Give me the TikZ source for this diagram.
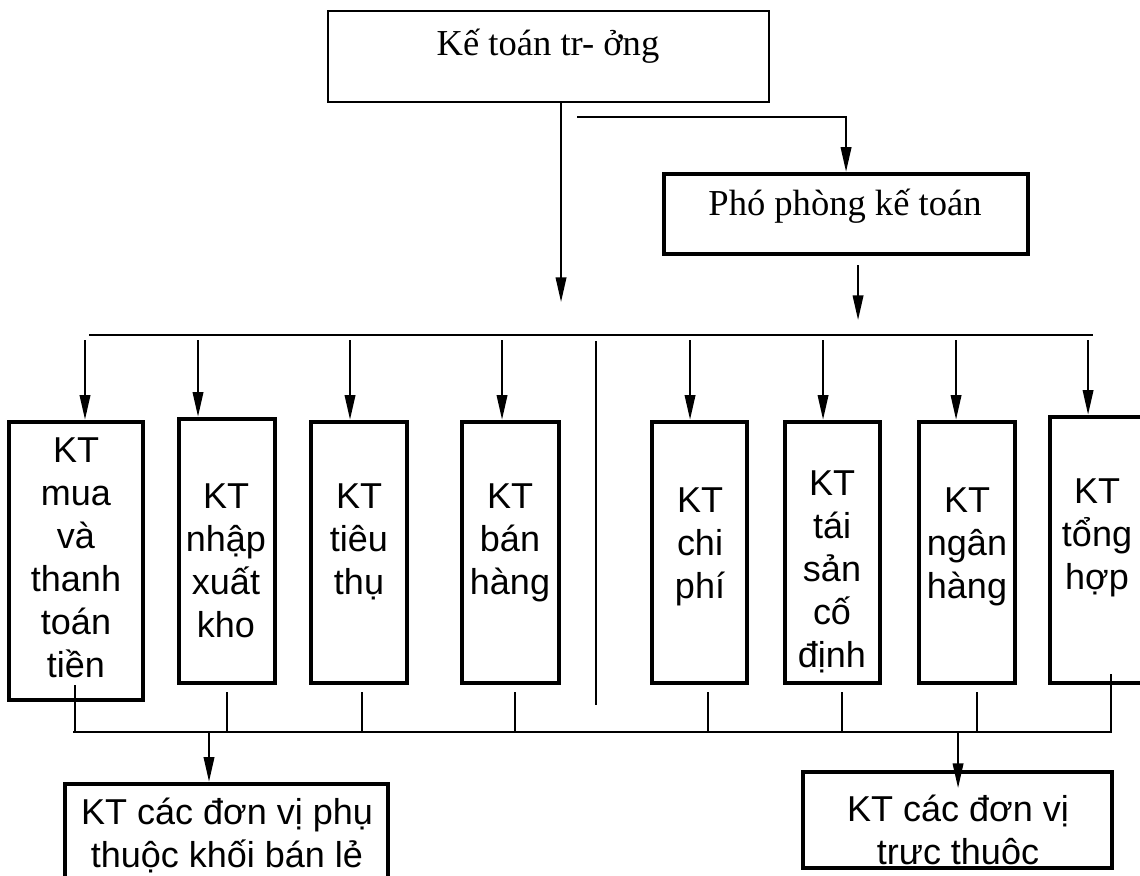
\documentclass[tikz,border=0pt]{standalone}
\usepackage{fontspec}
\setmainfont{Liberation Serif}
\setsansfont{Liberation Sans}
\usetikzlibrary{arrows.meta}
\tikzset{
  kbox/.style={draw=black, line width=1.35pt, inner sep=0pt},
  ktext/.style={font=\sffamily\fontsize{10.24}{12.23}\selectfont, align=center, inner sep=0pt, anchor=north},
  stext/.style={font=\fontsize{10.4}{12.5}\selectfont, inner sep=0pt, anchor=base},
  arr/.style={black, line width=0.55pt, -{Triangle[length=7pt, width=3pt]}},
  busline/.style={black, line width=0.55pt},
  thinline/.style={black, line width=0.45pt},
}
\begin{document}
\begin{tikzpicture}[scale=0.1]
\useasboundingbox (0,0) rectangle (114,-87.6);
\node [kbox, line width=0.6pt, minimum width=44.1mm, minimum height=9.1mm] (top) at (54.85,-5.65) {};
\node [stext] (toptext) at (54.8,-5.5) {Kế toán tr- ởng};
\node [kbox, line width=1.25pt, minimum width=36.4mm, minimum height=8mm] (pho) at (84.6,-21.4) {};
\node [stext] (photext) at (84.5,-21.5) {Phó phòng kế toán};
\node [kbox, minimum width=13.4mm, minimum height=27.8mm] (b1) at (7.6,-56.1) {};
\node [kbox, minimum width=9.6mm, minimum height=26.4mm] (b2) at (22.7,-55.1) {};
\node [kbox, minimum width=9.6mm, minimum height=26.1mm] (b3) at (35.9,-55.25) {};
\node [kbox, minimum width=9.7mm, minimum height=26.1mm] (b4) at (51.05,-55.25) {};
\node [kbox, minimum width=9.5mm, minimum height=26.1mm] (b5) at (69.95,-55.25) {};
\node [kbox, minimum width=9.5mm, minimum height=26.1mm] (b6) at (83.25,-55.25) {};
\node [kbox, minimum width=9.6mm, minimum height=26.1mm] (b7) at (96.7,-55.25) {};
\node [kbox, minimum width=9.6mm, minimum height=26.6mm] (b8) at (109.8,-55) {};
\node [ktext] (t1) at (7.6,-43.7) {KT\\mua\\và\\thanh\\toán\\tiền};
\node [ktext] (t2) at (22.6,-48.3) {KT\\nhập\\xuất\\kho};
\node [ktext] (t3) at (35.9,-48.3) {KT\\tiêu\\thụ};
\node [ktext] (t4) at (51.0,-48.3) {KT\\bán\\hàng};
\node [ktext] (t5) at (70.0,-48.7) {KT\\chi\\phí};
\node [ktext] (t6) at (83.2,-47.0) {KT\\tái\\sản\\cố\\định};
\node [ktext] (t7) at (96.7,-48.7) {KT\\ngân\\hàng};
\node [ktext] (t8) at (109.7,-47.8) {KT\\tổng\\hợp};
\node [kbox, minimum width=32.3mm, minimum height=11.6mm] (bl) at (22.65,-84.2) {};
\node [ktext] (bltext) at (22.7,-79.7) {KT các đơn vị phụ\\thuộc khối bán lẻ};
\node [kbox, minimum width=30.9mm, minimum height=9.6mm] (br) at (95.75,-82) {};
\node [ktext] (brtext) at (95.8,-79.4) {KT các đơn vị\\trực thuộc};
\coordinate (topdrop) at (56.1,-30.2);
\coordinate (phostart) at (57.7,-11.7);
\coordinate (phodropa) at (85.8,-26.5);
\coordinate (phodrop) at (85.8,-32);
\coordinate (busL) at (8.9,-33.5);
\coordinate (busR) at (109.3,-33.5);
\coordinate (sepT) at (59.6,-34.1);
\coordinate (sepB) at (59.6,-70.5);
\coordinate (busbL) at (7.3,-73.2);
\coordinate (busbR) at (111.2,-73.2);
\draw [arr] (topdrop |- top.south) -- (topdrop);
\draw [arr] (phostart) -| (pho.north);
\draw [arr] (phodropa) -- (phodrop);
\draw [busline] (busL) -- (busR);
\draw [busline] (sepT) -- (sepB);
\draw [busline] (busbL) -- (busbR);
\coordinate (a1) at (8.5,-34);
\coordinate (a2) at (19.8,-34);
\coordinate (a3) at (35.0,-34);
\coordinate (a4) at (50.2,-34);
\coordinate (a5) at (69.0,-34);
\coordinate (a6) at (82.3,-34);
\coordinate (a7) at (95.6,-34);
\coordinate (a8) at (108.8,-34);
\draw [arr] (a1) -- (a1 |- b1.north);
\draw [arr] (a2) -- (a2 |- b2.north);
\draw [arr] (a3) -- (a3 |- b3.north);
\draw [arr] (a4) -- (a4 |- b4.north);
\draw [arr] (a5) -- (a5 |- b5.north);
\draw [arr] (a6) -- (a6 |- b6.north);
\draw [arr] (a7) -- (a7 |- b7.north);
\draw [arr] (a8) -- (a8 |- b8.north);
\coordinate (d1) at (7.5,-73.2);
\coordinate (d2) at (22.7,-73.2);
\coordinate (d3) at (36.2,-73.2);
\coordinate (d4) at (51.5,-73.2);
\coordinate (d5) at (70.8,-73.2);
\coordinate (d6) at (84.2,-73.2);
\coordinate (d7) at (97.7,-73.2);
\coordinate (d8) at (111.1,-73.2);
\draw [thinline] (d1 |- b1.south) ++(0,1.7) -- (d1);
\draw [thinline] (d2 |- b2.south) ++(0,-0.7) -- (d2);
\draw [thinline] (d3 |- b3.south) ++(0,-0.7) -- (d3);
\draw [thinline] (d4 |- b4.south) ++(0,-0.7) -- (d4);
\draw [thinline] (d5 |- b5.south) ++(0,-0.7) -- (d5);
\draw [thinline] (d6 |- b6.south) ++(0,-0.7) -- (d6);
\draw [thinline] (d7 |- b7.south) ++(0,-0.7) -- (d7);
\draw [thinline] (d8 |- b8.south) ++(0,1.1) -- (d8);
\coordinate (m1) at (20.9,-73.2);
\coordinate (m2) at (95.8,-73.2);
\coordinate (m2e) at (95.8,-78.8);
\draw [arr] (m1) -- (m1 |- bl.north);
\draw [arr] (m2) -- (m2e);
\end{tikzpicture}
\end{document}
